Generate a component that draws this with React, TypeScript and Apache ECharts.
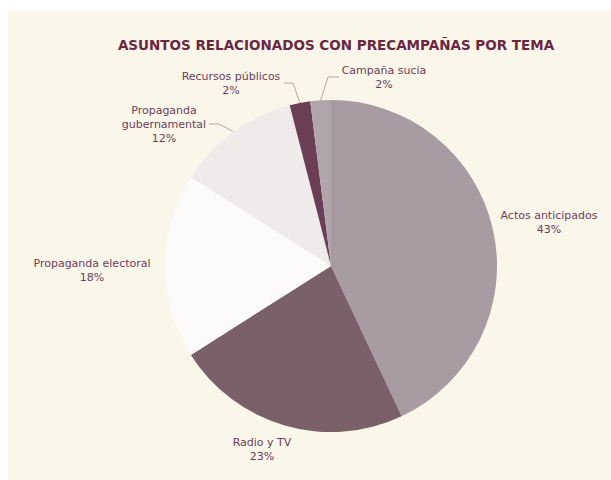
import React, { useEffect, useRef } from "react";
import * as echarts from "echarts";

const TITLE = "ASUNTOS RELACIONADOS CON PRECAMPAÑAS POR TEMA";
const categories = [
  "Actos anticipados",
  "Radio y TV",
  "Propaganda electoral",
  "Propaganda\ngubernamental",
  "Recursos públicos",
  "Campaña sucia",
];
const values = [43, 23, 18, 12, 2, 2];
const sliceColors = ["#a89ba1", "#7a6069", "#fcfbfa", "#efebeb", "#6c3e55", "#b0a5aa"];

// label anchor (center) and optional label-line elbow/end per slice
const labelSpots: { x: number; y: number; line?: number[][] }[] = [
  { x: 549, y: 222 },
  { x: 262, y: 449 },
  { x: 92, y: 270 },
  { x: 164, y: 124, line: [[219, 124], [209, 124]] },
  { x: 231, y: 83, line: [[293, 83], [284, 83]] },
  { x: 384, y: 77, line: [[328, 77], [339, 77]] },
];

export default function App() {
  const ref = useRef<HTMLDivElement>(null);
  useEffect(() => {
    if (!ref.current) return;
    const chart = echarts.init(ref.current, undefined, { renderer: "svg" });
    chart.setOption({
      animation: false,
      backgroundColor: "#ffffff",
      graphic: [
        {
          type: "rect",
          z: -10,
          silent: true,
          shape: { x: 8, y: 11, width: 603, height: 469 },
          style: { fill: "#faf6e9" },
        },
      ],
      title: {
        text: TITLE,
        left: 331,
        top: 33,
        textAlign: "center",
        textStyle: {
          fontFamily: "DejaVu Sans",
          fontWeight: "bold",
          fontSize: 13.5,
          color: "#6a2742",
        },
      },
      series: [
        {
          type: "pie",
          center: [331, 266],
          radius: 166,
          startAngle: 90,
          clockwise: true,
          label: {
            show: true,
            position: "outside",
            formatter: (p: any) => `${p.name}\n${p.value}%`,
            fontFamily: "DejaVu Sans",
            fontSize: 11,
            lineHeight: 14,
            color: "#6b3f5a",
            align: "center",
            overflow: "none",
          },
          labelLine: {
            show: true,
            lineStyle: { color: "#b3aaa2", width: 1 },
          },
          labelLayout: (params: any) => {
            const s = labelSpots[params.dataIndex];
            const start = params.labelLinePoints ? params.labelLinePoints[0] : [0, 0];
            const res: any = {
              x: s.x,
              y: s.y,
              align: "center",
              verticalAlign: "middle",
              width: 160,
            };
            if (s.line) {
              res.labelLinePoints = [start, s.line[0], s.line[1]];
            } else {
              res.labelLinePoints = [start, start, start];
            }
            return res;
          },
          itemStyle: { borderWidth: 0 },
          emphasis: { disabled: true },
          data: categories.map((c, i) => ({
            name: c,
            value: values[i],
            itemStyle: { color: sliceColors[i] },
            labelLine: { show: !!labelSpots[i].line },
          })),
        },
      ],
    });
    return () => chart.dispose();
  }, []);
  return (
    <div
      ref={ref}
      style={{ position: "fixed", left: 0, top: 0, width: 611, height: 480 }}
    />
  );
}
